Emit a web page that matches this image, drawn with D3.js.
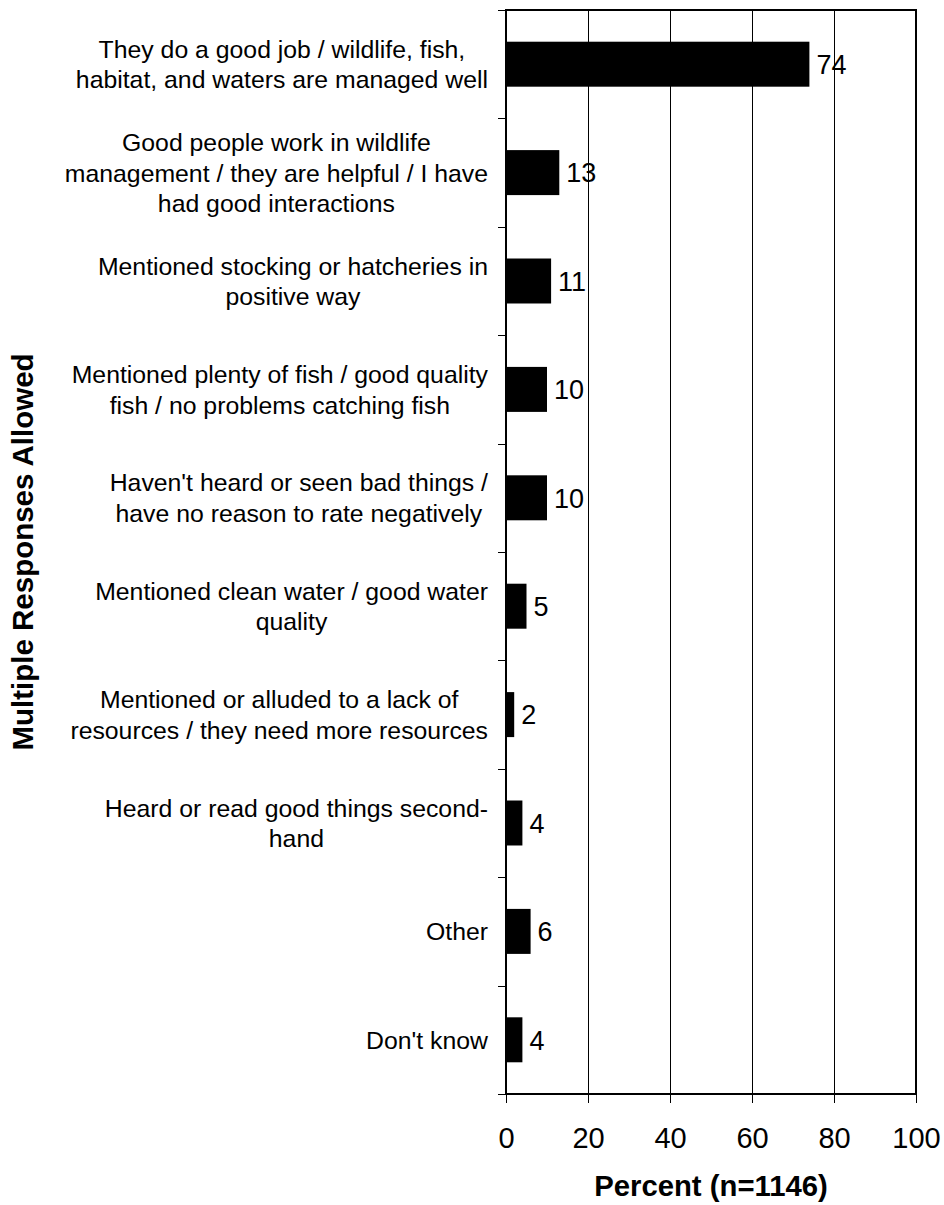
<!DOCTYPE html>
<html>
<head>
<meta charset="utf-8">
<script src="https://cdn.jsdelivr.net/npm/d3@7"></script>
<style>
  html, body { margin: 0; padding: 0; background: #fff; }
  svg { display: block; font-family: "Liberation Sans", Arial, sans-serif; }
</style>
</head>
<body>
<svg id="chart" width="944" height="1205"></svg>
<script>
const categories = [
  ["They do a good job / wildlife, fish,", "habitat, and waters are managed well"],
  ["Good people work in wildlife", "management / they are helpful / I have", "had good interactions"],
  ["Mentioned stocking or hatcheries in", "positive way"],
  ["Mentioned plenty of fish / good quality", "fish / no problems catching fish"],
  ["Haven't heard or seen bad things /", "have no reason to rate negatively"],
  ["Mentioned clean water / good water", "quality"],
  ["Mentioned or alluded to a lack of", "resources / they need more resources"],
  ["Heard or read good things second-", "hand"],
  ["Other"],
  ["Don't know"]
];
const values = [74, 13, 11, 10, 10, 5, 2, 4, 6, 4];
const xTicks = [0, 20, 40, 60, 80, 100];
const xTitle = "Percent (n=1146)";
const yTitle = "Multiple Responses Allowed";

(function () {
const svg = d3.select("#chart");
const pLeft = 506, pRight = 916, pTop = 10, pBottom = 1094;

const x = d3.scaleLinear().domain([0, 100]).range([pLeft, pRight]);
const y = d3.scaleBand().domain(d3.range(categories.length)).range([pTop, pBottom]).paddingInner(0.585).paddingOuter(0.2925);
const yEdge = d3.scaleLinear().domain([0, categories.length]).range([pTop, pBottom]);

// gridlines
svg.append("g").selectAll("line").data(xTicks.filter(d => d > 0 && d < 100)).join("line")
  .attr("x1", d => Math.round(x(d)) + 0.5).attr("x2", d => Math.round(x(d)) + 0.5)
  .attr("y1", pTop).attr("y2", pBottom)
  .attr("stroke", "#000").attr("stroke-width", 1)
  .attr("shape-rendering", "crispEdges");

// bars
svg.append("g").selectAll("rect").data(values).join("rect")
  .attr("x", x(0))
  .attr("y", (d, i) => y(i))
  .attr("width", d => x(d) - x(0))
  .attr("height", y.bandwidth())
  .attr("fill", "#000");

// value labels
svg.append("g").selectAll("text").data(values).join("text")
  .attr("x", d => x(d) + 7)
  .attr("y", (d, i) => y(i) + y.bandwidth() / 2)
  .attr("dy", "0.36em")
  .attr("font-size", 27)
  .attr("fill", "#000")
  .text(d => d);

// frame
svg.append("rect")
  .attr("x", pLeft).attr("y", pTop)
  .attr("width", pRight - pLeft).attr("height", pBottom - pTop)
  .attr("fill", "none").attr("stroke", "#000").attr("stroke-width", 2);

// y axis ticks (category boundaries)
const yAxis = svg.append("g").attr("transform", `translate(${pLeft},0)`)
  .call(d3.axisLeft(yEdge).tickValues(d3.range(categories.length + 1)).tickSize(8).tickFormat(""));
yAxis.select(".domain").remove();
yAxis.selectAll(".tick line").attr("stroke", "#000").attr("stroke-width", 1).attr("shape-rendering", "crispEdges");

// x axis
const xAxis = svg.append("g").attr("transform", `translate(0,${pBottom})`)
  .call(d3.axisBottom(x).tickValues(xTicks).tickSize(9).tickPadding(24));
xAxis.select(".domain").remove();
xAxis.selectAll(".tick line").attr("stroke", "#000").attr("stroke-width", 1).attr("shape-rendering", "crispEdges");
xAxis.selectAll(".tick text")
  .attr("font-size", 29).attr("font-family", "Liberation Sans, Arial, sans-serif")
  .attr("fill", "#000");

// category labels (multi-line, centered block, right aligned at 488)
const lineH = 30.5;
const labelRight = 488;
categories.forEach((lines, i) => {
  const cy = y(i) + y.bandwidth() / 2;
  const g = svg.append("g");
  const texts = lines.map((ln, j) => g.append("text")
    .attr("font-size", 24.8)
    .attr("fill", "#000")
    .attr("text-anchor", "middle")
    .attr("y", cy + (j - (lines.length - 1) / 2) * lineH)
    .attr("dy", "0.36em")
    .text(ln));
  const maxW = d3.max(texts, t => t.node().getComputedTextLength());
  texts.forEach(t => t.attr("x", labelRight - maxW / 2));
});

// axis titles
svg.append("text")
  .attr("x", (pLeft + pRight) / 2).attr("y", 1196)
  .attr("text-anchor", "middle")
  .attr("font-size", 29.3).attr("font-weight", "bold")
  .text(xTitle);

svg.append("text")
  .attr("transform", `translate(33,${(pTop + pBottom) / 2}) rotate(-90)`)
  .attr("text-anchor", "middle")
  .attr("font-size", 29.5).attr("font-weight", "bold")
  .text(yTitle);
})();
</script>
</body>
</html>
